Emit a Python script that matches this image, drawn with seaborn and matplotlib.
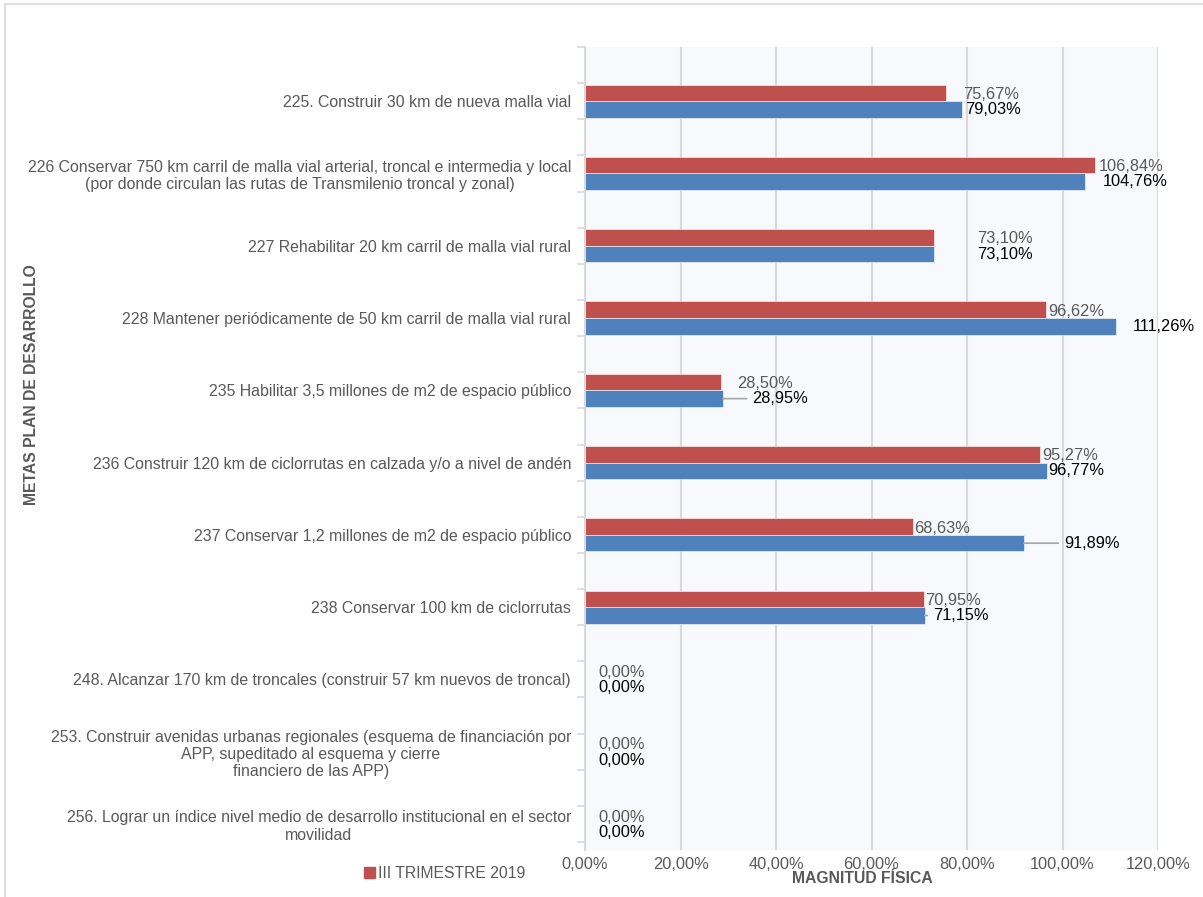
import matplotlib
matplotlib.use("Agg")
import matplotlib.pyplot as plt
import seaborn as sns
import pandas as pd
from matplotlib.patches import Patch
from matplotlib.lines import Line2D

categories = [
    "225. Construir 30 km de nueva malla vial",
    "226 Conservar 750 km carril de malla vial arterial, troncal e intermedia y local\n(por donde circulan las rutas de Transmilenio troncal y zonal)",
    "227 Rehabilitar 20 km carril de malla vial rural",
    "228 Mantener periódicamente de 50 km carril de malla vial rural",
    "235 Habilitar 3,5 millones de m2 de espacio público",
    "236 Construir 120 km de ciclorrutas en calzada y/o a nivel de andén",
    "237 Conservar 1,2 millones de m2 de espacio público",
    "238 Conservar 100 km de ciclorrutas",
    "248. Alcanzar 170 km de troncales (construir 57 km nuevos de troncal)",
    "253. Construir avenidas urbanas regionales (esquema de financiación por\nAPP, supeditado al esquema y cierre\nfinanciero de las APP)",
    "256. Lograr un índice nivel medio de desarrollo institucional en el sector\nmovilidad",
]
series_names = ["III TRIMESTRE 2019", "ACUMULADO"]
trimestre = [75.67, 106.84, 73.10, 96.62, 28.50, 95.27, 68.63, 70.95, 0.00, 0.00, 0.00]
acumulado = [79.03, 104.76, 73.10, 111.26, 28.95, 96.77, 91.89, 71.15, 0.00, 0.00, 0.00]
x_ticks = [0, 20, 40, 60, 80, 100, 120]

# label layout offsets (percentage points right of bar end)
red_dx = [3.6, 0.8, 9.0, 0.4, 3.4, 0.4, 0.4, 0.2, 2.7, 2.7, 2.7]
blue_dx = [0.6, 3.6, 9.0, 3.4, 6.1, 0.2, 8.4, 1.7, 2.7, 2.7, 2.7]
blue_leader = [False, False, False, False, True, False, True, True, False, False, False]

RED = "#C0504D"
BLUE = "#4F81BD"
GRAY = "#595959"
FONT = "Liberation Sans"
FS_CAT = 11.4
FS_VAL = 11.8
FS_TITLE = 11.3

df = pd.DataFrame({
    "meta": categories * 2,
    "valor": trimestre + acumulado,
    "serie": [series_names[0]] * len(categories) + [series_names[1]] * len(categories),
})

plt.rcParams["font.family"] = [FONT, "DejaVu Sans"]
fig = plt.figure(figsize=(12.03, 8.97), dpi=100)
ax = fig.add_axes([585 / 1203, 1 - 850 / 897, (1158 - 585) / 1203, (850 - 47) / 897])
ax.set_facecolor("#F8F9FD")

sns.barplot(data=df, y="meta", x="valor", hue="serie", orient="h",
            palette=[RED, BLUE], width=0.46, saturation=1, ax=ax, legend=False,
            edgecolor="white", linewidth=0.4, errorbar=None)

ax.set_xlim(0, 120)
ax.set_ylim(10.36, -0.75)
ax.set_xticks(x_ticks)
ax.set_xticklabels([f"{v:.2f}%".replace(".", ",") for v in x_ticks], color=GRAY, fontsize=FS_VAL)
ax.tick_params(axis="x", length=0, pad=5)
ax.set_yticks(range(len(categories)))
ax.set_yticklabels(categories, color=GRAY, fontsize=FS_CAT, multialignment="center")
ax.tick_params(axis="y", which="major", length=0, pad=10)
ax.set_yticks([-0.75 + 0.5 * k for k in range(23)], minor=True)
ax.tick_params(axis="y", which="minor", length=6, color="#D9D9D9", width=1.2)
ax.set_xlabel("")
ax.set_ylabel("")
ax.grid(axis="x", color="#D9D9D9", linewidth=1.5)
ax.set_axisbelow(True)
for s in ["top", "right", "bottom"]:
    ax.spines[s].set_visible(False)
ax.spines["left"].set_color("#D9D9D9")
ax.spines["left"].set_linewidth(1.5)

def fmt(v):
    return f"{v:.2f}%".replace(".", ",")

for i in range(len(categories)):
    r, b = trimestre[i], acumulado[i]
    ax.text(r + red_dx[i], i - 0.095, fmt(r), color=GRAY, fontsize=FS_VAL,
            ha="left", va="center")
    if blue_leader[i]:
        ax.annotate(fmt(b), xy=(b, i + 0.115), xytext=(b + blue_dx[i], i + 0.115),
                    color="black", fontsize=FS_VAL, ha="left", va="center",
                    arrowprops=dict(arrowstyle="-", color="#A6A6A6", lw=1.2,
                                    shrinkA=2, shrinkB=0))
    else:
        ax.text(b + blue_dx[i], i + 0.115, fmt(b), color="black", fontsize=FS_VAL,
                ha="left", va="center")

fig.text(32 / 1203, 1 - 385 / 897, "METAS PLAN DE DESARROLLO", rotation=90,
         color=GRAY, fontsize=FS_TITLE, fontweight="bold", ha="center", va="center")
fig.text(862 / 1203, 1 - 878 / 897, "MAGNITUD FÍSICA", color=GRAY,
         fontsize=FS_TITLE, fontweight="bold", ha="center", va="center")

fig.legend(handles=[Patch(color=RED, label=series_names[0])],
           loc="center left", bbox_to_anchor=(350 / 1203, 1 - 873 / 897),
           frameon=False, handlelength=0.7, handleheight=0.7, handletextpad=0.2,
           prop={"size": FS_TITLE, "family": FONT}, labelcolor=GRAY)

# figure border
fig.add_artist(Line2D([5 / 1203, 5 / 1203], [0, 1 - 4 / 897], color="#D9D9D9",
                      lw=1.2, transform=fig.transFigure))
fig.add_artist(Line2D([5 / 1203, 1], [1 - 4 / 897, 1 - 4 / 897], color="#D9D9D9",
                      lw=1.2, transform=fig.transFigure))

fig.savefig("out.png", dpi=100)
